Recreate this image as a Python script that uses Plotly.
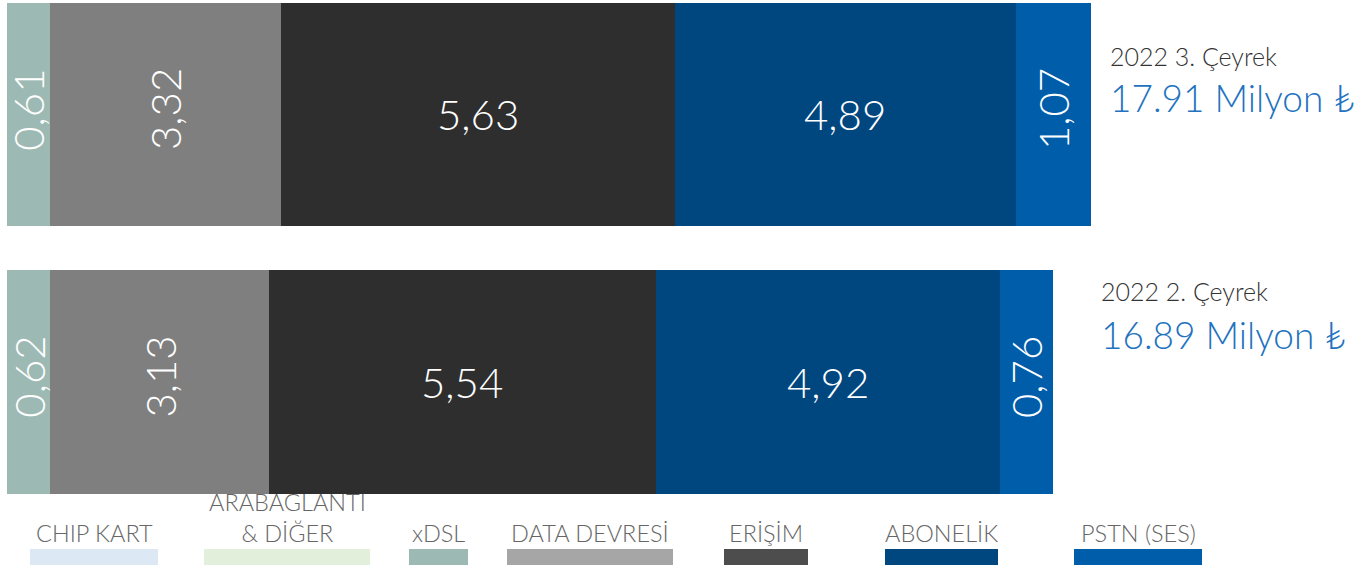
import plotly.graph_objects as go

# --- data -------------------------------------------------------------
periods = ["2022 2. Çeyrek", "2022 3. Çeyrek"]
period_totals = ["16.89", "17.91"]

segments = ["xDSL", "DATA DEVRESİ", "ERİŞİM", "ABONELİK", "PSTN (SES)"]
q2_values = [0.62, 3.13, 5.54, 4.92, 0.76]
q3_values = [0.61, 3.32, 5.63, 4.89, 1.07]

legend_labels = ["CHIP KART", "ARABAGLANTI<br>& DİĞER", "xDSL", "DATA DEVRESİ",
                 "ERİŞİM", "ABONELİK", "PSTN (SES)"]

# --- styling ----------------------------------------------------------
bar_colors = ["#9DB9B3", "#7F7F7F", "#2E2E2E", "#00467F", "#005DAA"]
rotate_label = [True, True, False, False, True]
legend_colors = ["#DDE8F5", "#E2EFDA", "#9DB9B3", "#A6A6A6", "#4D4D4D", "#00467F", "#005DAA"]
legend_rect_px = [(30, 158), (204, 370), (409, 468), (507, 673), (724, 808), (885, 998), (1074, 1202)]

FONT = "Lato"
LIGHT = 300
W, H = 1370, 567
ML, MR, MT, MB = 7, 279, 0, 57
PW, PH = W - ML - MR, H - MT - MB


def px(p):
    return (p - ML) / PW


def py(p):
    return 1 - (p - MT) / PH


def fmt(v):
    return f"{v:.2f}".replace(".", ",")


values_by_period = [q2_values, q3_values]

fig = go.Figure()
for i, name in enumerate(segments):
    fig.add_trace(go.Bar(
        y=periods,
        x=[vals[i] for vals in values_by_period],
        orientation="h",
        name=name,
        marker=dict(color=bar_colors[i], line=dict(width=0)),
        width=0.834,
        showlegend=False,
        hoverinfo="x+name",
    ))

annotations = []
# value labels centred in each segment
for vals, period in zip(values_by_period, periods):
    start = 0.0
    for i, v in enumerate(vals):
        annotations.append(dict(
            x=start + v / 2, y=period, xref="x", yref="y",
            text=fmt(v), showarrow=False,
            textangle=-90 if rotate_label[i] else 0,
            yshift=5 if rotate_label[i] else 0,
            font=dict(family=FONT, size=42, color="white", weight=LIGHT),
            xanchor="center", yanchor="middle",
        ))
        start += v

# period titles and totals on the right
title_pos = {"2022 3. Çeyrek": (1108, 56, 98), "2022 2. Çeyrek": (1099, 291, 334)}
for period, total in zip(periods, period_totals):
    x0, y_title, y_total = title_pos[period]
    annotations.append(dict(
        x=px(x0), y=py(y_title), xref="paper", yref="paper",
        text=period, showarrow=False, xanchor="left", yanchor="middle",
        font=dict(family=FONT, size=25, color="#333333", weight=LIGHT),
    ))
    annotations.append(dict(
        x=px(x0), y=py(y_total), xref="paper", yref="paper",
        text=f"{total} Milyon ₺", showarrow=False, xanchor="left", yanchor="middle",
        font=dict(family=FONT, size=37, color="#2272C0", weight=LIGHT),
    ))

# custom legend: label above a coloured strip
shapes = []
for label, color, (x0, x1) in zip(legend_labels, legend_colors, legend_rect_px):
    shapes.append(dict(
        type="rect", xref="paper", yref="paper",
        x0=px(x0), x1=px(x1), y0=py(565), y1=py(549),
        fillcolor=color, line=dict(width=0), layer="above",
    ))
    annotations.append(dict(
        x=px((x0 + x1) / 2), y=py(549), xref="paper", yref="paper",
        text=label, showarrow=False, xanchor="center", yanchor="bottom",
        font=dict(family=FONT, size=23.5, color="#666666", weight=LIGHT),
    ))

fig.update_layout(
    width=W, height=H,
    margin=dict(l=ML, r=MR, t=MT, b=MB),
    paper_bgcolor="white", plot_bgcolor="white",
    barmode="stack", bargap=0,
    xaxis=dict(range=[0, sum(q3_values)], visible=False, fixedrange=True),
    yaxis=dict(categoryorder="array", categoryarray=periods,
               range=[-0.4785, 1.428], visible=False, fixedrange=True),
    annotations=annotations,
    shapes=shapes,
)

fig.write_html("out.html")
